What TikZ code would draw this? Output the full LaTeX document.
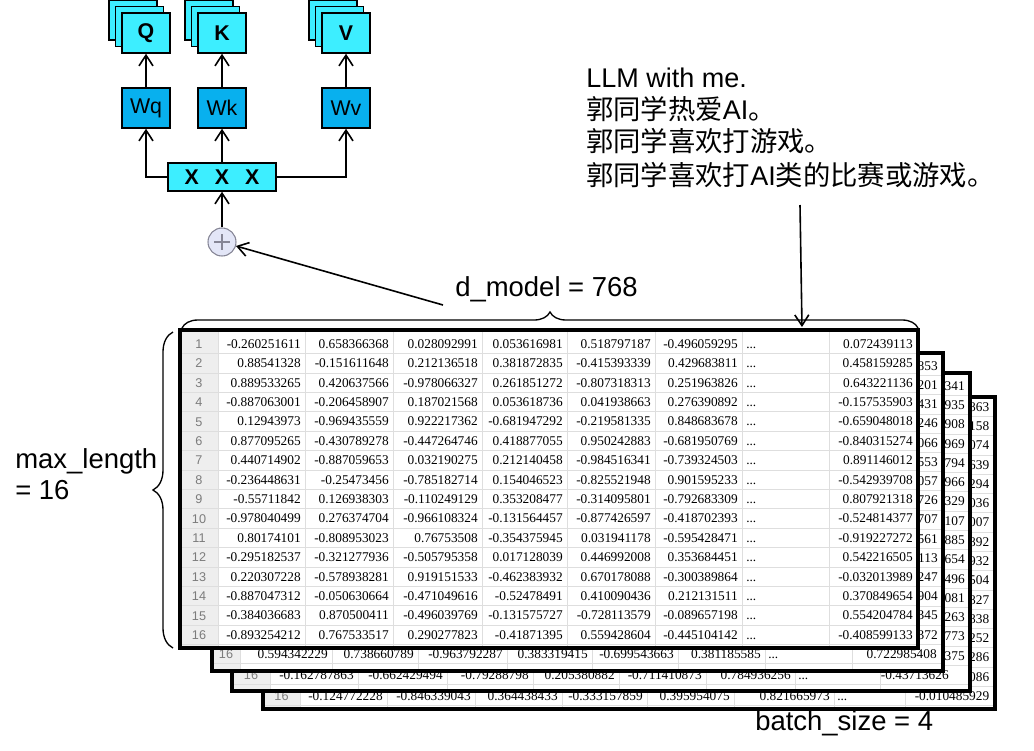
\documentclass[tikz,border=0pt]{standalone}
\usepackage{fontspec}
\setmainfont{Liberation Sans}
\newfontfamily\cjk{Noto Sans CJK SC}
\newfontfamily\numf{Liberation Serif}
\usetikzlibrary{arrows.meta,decorations.pathreplacing}
\definecolor{qcyan}{HTML}{3DEEFF}
\definecolor{wblue}{HTML}{08B0EE}
\definecolor{gridc}{HTML}{DEDEDE}
\definecolor{numbg}{HTML}{EEEEEE}
\definecolor{rowno}{HTML}{7C7C7C}
\definecolor{circf}{HTML}{E3E6F7}
\definecolor{circd}{HTML}{858595}
\tikzset{
 qbox/.style={draw=black, fill=qcyan, line width=1.1pt, minimum width=36pt, minimum height=30pt, inner sep=0pt, font=\fontsize{16}{16}\selectfont\bfseries},
 wbox/.style={qbox, fill=wblue, font=\fontsize{16}{16}\selectfont},
 xbox/.style={qbox, minimum width=81pt, minimum height=21pt},
 arr/.style={line width=1.2pt, -{Straight Barb[length=8pt,width=10.5pt,line width=1.2pt]}},
 lab/.style={anchor=base west, inner sep=0pt, font=\fontsize{20.6}{24}\selectfont},
 ttxt/.style={anchor=base west, inner sep=0pt, font=\fontsize{20.25}{21}\selectfont},
 num/.style={anchor=base east, inner sep=0pt, font=\numf\fontsize{10}{10}\selectfont},
 dotsn/.style={num, anchor=base west},
 rno/.style={anchor=base, inner sep=0pt, text=rowno, font=\fontsize{9.5}{10}\selectfont},
 gridln/.style={gridc, line width=0.75pt},
 tframe/.style={line width=2.7pt},
 cbrace/.style={decorate, decoration={brace, amplitude=#1}, line width=1pt},
}
\newcommand\cj[1]{{\cjk\fontsize{20.5}{21}\selectfont #1}}
\begin{document}
\begin{tikzpicture}[x=0.75pt,y=-0.75pt]
\useasboundingbox (0,0) rectangle (1034,750);

% ---------- table 4 (back) ----------
\fill[white] (263,397) rectangle (995,709);
\fill[numbg] (263,397) rectangle (300,709);
\foreach \r in {1,...,16}{\pgfmathsetmacro\yy{407+(\r-1)*19.27+9.6}\draw[gridln] (263,\yy) -- (995,\yy);}
\foreach \xx in {300,387,475,562,647,734,834,905}{\draw[gridln] (\xx,397) -- (\xx,709);}
\node[rno] (t4n) at (281.5,700.5) {16};
\node[num] (t4a) at (383,700.3) {-0.124772228};
\node[num] (t4b) at (471,700.3) {-0.846339043};
\node[num] (t4c) at (558,700.3) {0.364438433};
\node[num] (t4d) at (643,700.3) {-0.333157859};
\node[num] (t4e) at (730,700.3) {0.395954075};
\node[num] (t4f) at (830,700.3) {0.821665973};
\node[dotsn] (t4g) at (837,700.3) {...};
\node[num] (t4h) at (989.5,700.3) {-0.010485929};
\foreach \r/\v in {1/863,2/158,3/074,4/639,5/294,6/036,7/007,8/892,9/932,10/504,11/827,12/838,13/252,14/286,15/086}{
 \pgfmathsetmacro\yy{407+(\r-1)*19.27+4.3}
 \node[num] (t4s\r) at (989.5,\yy) {\v};}
\draw[tframe] (263,397) rectangle (995,709);

% ---------- table 3 ----------
\fill[white] (232,373) rectangle (970,691);
\fill[numbg] (232,373) rectangle (270,691);
\foreach \r in {1,...,16}{\pgfmathsetmacro\yy{386+(\r-1)*19.27+9.6}\draw[gridln] (232,\yy) -- (970,\yy);}
\foreach \xx in {270,358,447,533,619,706,795,880}{\draw[gridln] (\xx,373) -- (\xx,691);}
\node[rno] (t3n) at (251,679.5) {16};
\node[num] (t3a) at (354,679.3) {-0.162787863};
\node[num] (t3b) at (443,679.3) {-0.662429494};
\node[num] (t3c) at (529,679.3) {-0.79288798};
\node[num] (t3d) at (615,679.3) {0.205380882};
\node[num] (t3e) at (702,679.3) {-0.711410873};
\node[num] (t3f) at (791,679.3) {0.784936256};
\node[dotsn] (t3g) at (798,679.3) {...};
\node[num] (t3h) at (949,679.3) {-0.43713626};
\foreach \r/\v in {1/341,2/935,3/908,4/969,5/794,6/966,7/329,8/107,9/885,10/654,11/496,12/081,13/263,14/773,15/375}{
 \pgfmathsetmacro\yy{386+(\r-1)*19.27+4.3}
 \node[num] (t3s\r) at (965,\yy) {\v};}
\draw[tframe] (232,373) rectangle (970,691);

% ---------- table 2 ----------
\fill[white] (212,353) rectangle (943,671);
\fill[numbg] (212,353) rectangle (240,671);
\foreach \r in {1,...,16}{\pgfmathsetmacro\yy{366+(\r-1)*19.2+9.6}\draw[gridln] (212,\yy) -- (943,\yy);}
\foreach \xx in {240,332,418,507,592,678,765,852}{\draw[gridln] (\xx,353) -- (\xx,671);}
\node[rno] (t2n) at (226,658.5) {16};
\node[num] (t2a) at (328,658.3) {0.594342229};
\node[num] (t2b) at (414,658.3) {0.738660789};
\node[num] (t2c) at (503,658.3) {-0.963792287};
\node[num] (t2d) at (588,658.3) {0.383319415};
\node[num] (t2e) at (674,658.3) {-0.699543663};
\node[num] (t2f) at (761,658.3) {0.381185585};
\node[dotsn] (t2g) at (768,658.3) {...};
\node[num] (t2h) at (937,658.3) {0.722985408};
\foreach \r/\v in {1/853,2/201,3/431,4/246,5/066,6/553,7/057,8/726,9/707,10/561,11/113,12/247,13/904,14/345,15/372}{
 \pgfmathsetmacro\yy{366+(\r-1)*19.2+4.3}
 \node[num] (t2s\r) at (938,\yy) {\v};}
\draw[tframe] (212,353) rectangle (943,671);

% ---------- front table ----------
\fill[white] (180,330) rectangle (918,648);
\fill[numbg] (180,330) rectangle (218,648);
\foreach \r in {1,...,16}{\pgfmathsetmacro\yy{344+(\r-1)*19.4+9.7}\draw[gridln] (180,\yy) -- (918,\yy);}
\foreach \xx in {218,305,393,482,567,655,742,829}{\draw[gridln] (\xx,330) -- (\xx,648);}
\foreach \r/\va/\vb/\vc/\vd/\ve/\vf/\vg in {
 1/-0.260251611/0.658366368/0.028092991/0.053616981/0.518797187/-0.496059295/0.072439113,
 2/0.88541328/-0.151611648/0.212136518/0.381872835/-0.415393339/0.429683811/0.458159285,
 3/0.889533265/0.420637566/-0.978066327/0.261851272/-0.807318313/0.251963826/0.643221136,
 4/-0.887063001/-0.206458907/0.187021568/0.053618736/0.041938663/0.276390892/-0.157535903,
 5/0.12943973/-0.969435559/0.922217362/-0.681947292/-0.219581335/0.848683678/-0.659048018,
 6/0.877095265/-0.430789278/-0.447264746/0.418877055/0.950242883/-0.681950769/-0.840315274,
 7/0.440714902/-0.887059653/0.032190275/0.212140458/-0.984516341/-0.739324503/0.891146012,
 8/-0.236448631/-0.25473456/-0.785182714/0.154046523/-0.825521948/0.901595233/-0.542939708,
 9/-0.55711842/0.126938303/-0.110249129/0.353208477/-0.314095801/-0.792683309/0.807921318,
 10/-0.978040499/0.276374704/-0.966108324/-0.131564457/-0.877426597/-0.418702393/-0.524814377,
 11/0.80174101/-0.808953023/0.76753508/-0.354375945/0.031941178/-0.595428471/-0.919227272,
 12/-0.295182537/-0.321277936/-0.505795358/0.017128039/0.446992008/0.353684451/0.542216505,
 13/0.220307228/-0.578938281/0.919151533/-0.462383932/0.670178088/-0.300389864/-0.032013989,
 14/-0.887047312/-0.050630664/-0.471049616/-0.52478491/0.410090436/0.212131511/0.370849654,
 15/-0.384036683/0.870500411/-0.496039769/-0.131575727/-0.728113579/-0.089657198/0.554204784,
 16/-0.893254212/0.767533517/0.290277823/-0.41871395/0.559428604/-0.445104142/-0.408599133}{
 \pgfmathsetmacro\yy{344+(\r-1)*19.4+4.3}
 \pgfmathsetmacro\yn{344+(\r-1)*19.4+4.5}
 \node[rno] (f\r n) at (199,\yn) {\r};
 \node[num] (f\r a) at (301,\yy) {\va};
 \node[num] (f\r b) at (389,\yy) {\vb};
 \node[num] (f\r c) at (478,\yy) {\vc};
 \node[num] (f\r d) at (563,\yy) {\vd};
 \node[num] (f\r e) at (651,\yy) {\ve};
 \node[num] (f\r f) at (738,\yy) {\vf};
 \node[dotsn] (f\r g) at (746,\yy) {...};
 \node[num] (f\r h) at (913,\yy) {\vg};
}
\draw[tframe] (180,330) rectangle (918,648);

% ---------- braces and labels ----------
\draw[cbrace=12pt] (182,328) -- (918,328);
\draw[cbrace=15pt] (173,648) -- (173,332);
\node[lab] (dm) at (455,296) {d\_model = 768};
\node[lab] (bs) at (755,730) {batch\_size = 4};
\node[lab] (ml1) at (15,468) {max\_length};
\node[lab] (ml2) at (15,499) {= 16};

% ---------- text top right ----------
\node[ttxt] (t1) at (586,87) {LLM with me.};
\node[ttxt] (t2) at (586,119) {\cj{郭同学热爱}AI\cj{。}};
\node[ttxt] (t3) at (586,151) {\cj{郭同学喜欢打游戏。}};
\node[ttxt] (t4) at (586,185) {\cj{郭同学喜欢打}AI\cj{类的比赛或游戏。}};
\coordinate (tfoot) at (800,205);
\coordinate (tabtop) at (802,327);
\draw[arr] (tfoot) -- (tabtop);

% ---------- QKV ----------
\node[qbox] (Qc) at (133,20) {};
\node[qbox] (Qb) at (139.5,26.5) {};
\node[qbox] (Q) at (146,33) {Q};
\node[qbox] (Kc) at (209,20) {};
\node[qbox] (Kb) at (215.5,26.5) {};
\node[qbox] (K) at (222,33) {K};
\node[qbox] (Vc) at (333,20) {};
\node[qbox] (Vb) at (339.5,26.5) {};
\node[qbox] (V) at (346,33) {V};
\node[wbox] (Wq) at (146,108) {Wq};
\node[wbox] (Wk) at (222,108) {Wk};
\node[wbox] (Wv) at (346,108) {Wv};
\node[xbox] (X) at (222,177) {X\hspace{12pt}X\hspace{12pt}X};
\node[circle, draw=circd, fill=circf, line width=0.8pt, minimum size=21pt, inner sep=0pt] (plus) at (222,242) {};
\draw[circd, line width=0.8pt] (214,242) -- (230,242) (222,234) -- (222,250);
\draw[arr] (Wq) -- (Q);
\draw[arr] (Wk) -- (K);
\draw[arr] (Wv) -- (V);
\draw[arr] (X) -- (Wk);
\draw[arr] (X.west) -| (Wq);
\draw[arr] (X.east) -| (Wv);
\draw[arr] (plus) -- (X);
\coordinate (dmfoot) at (443,305);
\draw[arr] (dmfoot) -- (plus);
\end{tikzpicture}
\end{document}
